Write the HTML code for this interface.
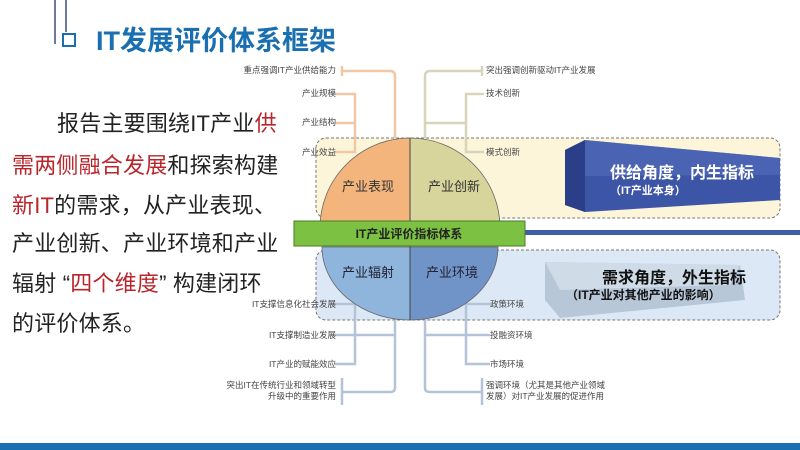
<!DOCTYPE html>
<html><head><meta charset="utf-8"><style>
html,body{margin:0;padding:0;background:#fff;}
body{width:800px;height:450px;position:relative;overflow:hidden;font-family:"Liberation Sans","Noto Sans CJK SC",sans-serif;}
.t{position:absolute;white-space:nowrap;}
.p{position:absolute;left:12px;font-size:22px;color:#222;white-space:nowrap;line-height:26px;letter-spacing:0.2px;}
.r{color:#b8262c;}
.lb{position:absolute;font-size:8.5px;color:#444;white-space:nowrap;line-height:11px;}
</style></head><body>
<div style="position:absolute;left:54px;top:0;width:2px;height:44px;background:#6b7c94"></div>
<div style="position:absolute;left:65px;top:0;width:2px;height:32px;background:#6b7c94"></div>
<div style="position:absolute;left:62px;top:33px;width:10px;height:10px;border:2.5px solid #1a6fb0"></div>
<div class="t" style="left:96px;top:24px;font-size:27px;font-weight:bold;color:#1a6fb0;line-height:34px">IT发展评价体系框架</div>

<div class="p" style="left:57px;top:111px">报告主要围绕IT产业<span class="r">供</span></div>
<div class="p" style="top:153px"><span class="r">需两侧融合发展</span>和探索构建</div>
<div class="p" style="top:193px"><span class="r">新IT</span>的需求，从产业表现、</div>
<div class="p" style="top:231px">产业创新、产业环境和产业</div>
<div class="p" style="top:271px">辐射 “<span class="r">四个维度</span>” 构建闭环</div>
<div class="p" style="top:311px">的评价体系。</div>

<svg width="800" height="450" style="position:absolute;left:0;top:0">
<rect x="316" y="138" width="464" height="80" rx="10" fill="#fdf5da" stroke="#777" stroke-dasharray="3,2"/>
<rect x="316" y="250" width="464" height="70" rx="10" fill="#dce8f5" stroke="#777" stroke-dasharray="3,2"/>
<polygon points="565,150 585,140 780,158 780,200 585,212 565,205" fill="#3d55a6"/>
<polygon points="565,150 585,140 585,212 565,205" fill="#2b3f88"/>
<polygon points="585,140 780,158 780,175 585,176" fill="#5a72c0" opacity="0.5"/>
<text x="610" y="178" font-size="16" font-weight="bold" fill="#fff">供给角度，内生指标</text>
<text x="610" y="194" font-size="11" font-weight="bold" fill="#fff">（IT产业本身）</text>
<polygon points="545,262 740,265 745,300 560,318 545,300" fill="#b7c7d8"/>
<polygon points="545,262 740,265 730,285 560,290" fill="#cfdbe7"/>
<text x="602" y="283" font-size="16" font-weight="bold" fill="#111">需求角度，外生指标</text>
<text x="566" y="299" font-size="12" font-weight="bold" fill="#111">（IT产业对其他产业的影响）</text>
<rect x="520" y="230" width="280" height="5" fill="#3f5ea8"/>
<g stroke="#f0c8a8" stroke-width="2.5" fill="none">
<path d="M342,66 V76 M342,71 H390 Q395,71 395,76 V138"/>
<path d="M335,94 H355 V152 H335 M335,123 H355"/>
</g>
<g stroke="#d8d4bc" stroke-width="2.5" fill="none">
<path d="M482,66 V76 M482,71 H430 Q425,71 425,76 V138"/>
<path d="M425,123 H466 M484,94 H466 V152 H484"/>
</g>
<g stroke="#b5c3d8" stroke-width="2.5" fill="none">
<path d="M335,304 H355 V364 H335 M335,335 H395 M395,320 V388 Q395,392 390,392 H342 M342,378 V405"/>
<path d="M425,320 V388 Q425,392 430,392 H482 M482,378 V405 M425,335 H466 M490,304 H466 V364 H490 M466,335 H490"/>
</g>
<path d="M320,228 A90,90 0 0 1 410,138 V228 Z" fill="#f4b57d" stroke="#666" stroke-width="0.8"/>
<path d="M410,138 A90,90 0 0 1 500,228 H410 Z" fill="#d7d49c" stroke="#666" stroke-width="0.8"/>
<path d="M322,247 A88,73 0 0 0 410,320 V247 Z" fill="#8fb5dc" stroke="#666" stroke-width="0.8"/>
<path d="M410,320 A88,73 0 0 0 498,247 H410 Z" fill="#7094c8" stroke="#666" stroke-width="0.8"/>
<line x1="410" y1="138" x2="410" y2="320" stroke="#444" stroke-width="1"/>
<text x="342" y="191" font-size="13" fill="#333">产业表现</text>
<text x="428" y="191" font-size="13" fill="#333">产业创新</text>
<text x="342" y="277" font-size="13" fill="#223">产业辐射</text>
<text x="426" y="277" font-size="13" fill="#223">产业环境</text>
<rect x="294" y="221" width="231" height="25" fill="#7dc143" stroke="#4a7a2a" stroke-width="1"/>
<text x="409" y="238" font-size="12" font-weight="bold" fill="#222" text-anchor="middle">IT产业评价指标体系</text>
<rect x="0" y="443" width="800" height="7" fill="#1a6fb0"/>
</svg>

<div class="lb" style="right:464px;top:65px">重点强调IT产业供给能力</div>
<div class="lb" style="right:464px;top:88px">产业规模</div>
<div class="lb" style="right:464px;top:117px">产业结构</div>
<div class="lb" style="right:464px;top:147px">产业效益</div>
<div class="lb" style="left:486px;top:65px">突出强调创新驱动IT产业发展</div>
<div class="lb" style="left:486px;top:88px">技术创新</div>
<div class="lb" style="left:486px;top:147px">模式创新</div>
<div class="lb" style="right:464px;top:299px">IT支撑信息化社会发展</div>
<div class="lb" style="right:464px;top:330px">IT支撑制造业发展</div>
<div class="lb" style="right:464px;top:359px">IT产业的赋能效应</div>
<div class="lb" style="right:464px;top:380px;text-align:right">突出IT在传统行业和领域转型<br>升级中的重要作用</div>
<div class="lb" style="left:490px;top:299px">政策环境</div>
<div class="lb" style="left:490px;top:330px">投融资环境</div>
<div class="lb" style="left:490px;top:359px">市场环境</div>
<div class="lb" style="left:486px;top:380px">强调环境（尤其是其他产业领域<br>发展）对IT产业发展的促进作用</div>
</body></html>
